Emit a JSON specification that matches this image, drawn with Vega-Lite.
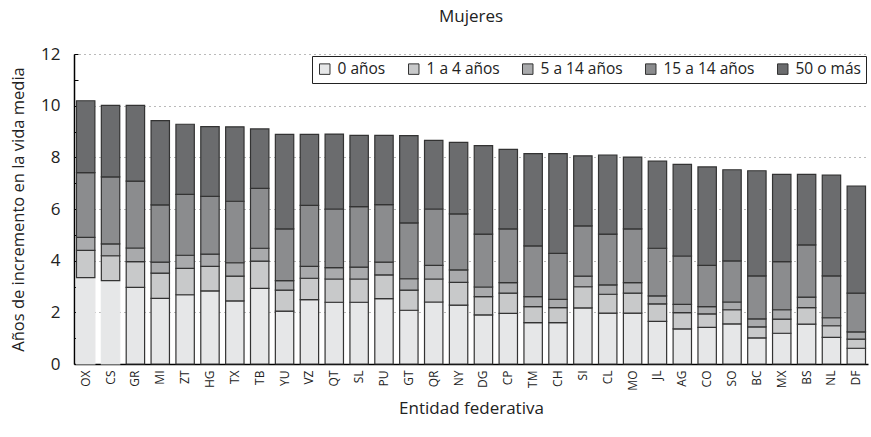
{
  "$schema": "https://vega.github.io/schema/vega-lite/v6.json",
  "width": 794,
  "height": 310,
  "autosize": {"type": "none"},
  "padding": {"left": 74, "top": 54, "right": 3, "bottom": 73},
  "background": "white",
  "config": {
    "font": "Open Sans",
    "view": {"stroke": null}
  },
  "title": {
    "text": "Mujeres",
    "fontSize": 17,
    "fontWeight": "normal",
    "color": "#222",
    "anchor": "middle",
    "offset": 19
  },
  "data": {
    "values": [
      {"estado": "OX", "g1": 3.34, "g2": 1.06, "g3": 0.50, "g4": 2.51, "g5": 2.78},
      {"estado": "CS", "g1": 3.23, "g2": 0.96, "g3": 0.46, "g4": 2.59, "g5": 2.77},
      {"estado": "GR", "g1": 2.97, "g2": 0.99, "g3": 0.53, "g4": 2.59, "g5": 2.93},
      {"estado": "MI", "g1": 2.54, "g2": 0.98, "g3": 0.42, "g4": 2.22, "g5": 3.26},
      {"estado": "ZT", "g1": 2.68, "g2": 1.02, "g3": 0.51, "g4": 2.36, "g5": 2.71},
      {"estado": "HG", "g1": 2.83, "g2": 0.95, "g3": 0.47, "g4": 2.24, "g5": 2.70},
      {"estado": "TX", "g1": 2.44, "g2": 0.96, "g3": 0.52, "g4": 2.38, "g5": 2.88},
      {"estado": "TB", "g1": 2.93, "g2": 1.05, "g3": 0.50, "g4": 2.32, "g5": 2.30},
      {"estado": "YU", "g1": 2.05, "g2": 0.81, "g3": 0.37, "g4": 2.00, "g5": 3.66},
      {"estado": "VZ", "g1": 2.49, "g2": 0.83, "g3": 0.46, "g4": 2.36, "g5": 2.75},
      {"estado": "QT", "g1": 2.39, "g2": 0.90, "g3": 0.44, "g4": 2.27, "g5": 2.90},
      {"estado": "SL", "g1": 2.39, "g2": 0.90, "g3": 0.46, "g4": 2.34, "g5": 2.76},
      {"estado": "PU", "g1": 2.53, "g2": 0.92, "g3": 0.49, "g4": 2.23, "g5": 2.68},
      {"estado": "GT", "g1": 2.08, "g2": 0.78, "g3": 0.44, "g4": 2.16, "g5": 3.38},
      {"estado": "QR", "g1": 2.40, "g2": 0.89, "g3": 0.53, "g4": 2.18, "g5": 2.66},
      {"estado": "NY", "g1": 2.28, "g2": 0.88, "g3": 0.48, "g4": 2.17, "g5": 2.77},
      {"estado": "DG", "g1": 1.90, "g2": 0.71, "g3": 0.37, "g4": 2.05, "g5": 3.42},
      {"estado": "CP", "g1": 1.96, "g2": 0.78, "g3": 0.41, "g4": 2.08, "g5": 3.08},
      {"estado": "TM", "g1": 1.60, "g2": 0.62, "g3": 0.39, "g4": 1.96, "g5": 3.57},
      {"estado": "CH", "g1": 1.60, "g2": 0.58, "g3": 0.32, "g4": 1.78, "g5": 3.86},
      {"estado": "SI", "g1": 2.17, "g2": 0.82, "g3": 0.41, "g4": 1.95, "g5": 2.71},
      {"estado": "CL", "g1": 1.97, "g2": 0.73, "g3": 0.36, "g4": 1.97, "g5": 3.06},
      {"estado": "MO", "g1": 1.97, "g2": 0.77, "g3": 0.41, "g4": 2.08, "g5": 2.78},
      {"estado": "JL", "g1": 1.65, "g2": 0.68, "g3": 0.31, "g4": 1.84, "g5": 3.37},
      {"estado": "AG", "g1": 1.36, "g2": 0.63, "g3": 0.32, "g4": 1.87, "g5": 3.55},
      {"estado": "CO", "g1": 1.42, "g2": 0.52, "g3": 0.28, "g4": 1.60, "g5": 3.81},
      {"estado": "SO", "g1": 1.55, "g2": 0.55, "g3": 0.30, "g4": 1.59, "g5": 3.53},
      {"estado": "BC", "g1": 1.01, "g2": 0.43, "g3": 0.31, "g4": 1.66, "g5": 4.07},
      {"estado": "MX", "g1": 1.19, "g2": 0.55, "g3": 0.36, "g4": 1.86, "g5": 3.38},
      {"estado": "BS", "g1": 1.54, "g2": 0.64, "g3": 0.41, "g4": 2.02, "g5": 2.73},
      {"estado": "NL", "g1": 1.03, "g2": 0.45, "g3": 0.31, "g4": 1.62, "g5": 3.90},
      {"estado": "DF", "g1": 0.61, "g2": 0.35, "g3": 0.28, "g4": 1.50, "g5": 4.15}
    ]
  },
  "transform": [
    {"fold": ["g1", "g2", "g3", "g4", "g5"], "as": ["grupo", "valor"]}
  ],
  "mark": {"type": "bar", "strokeWidth": 1.2},
  "encoding": {
    "x": {
      "field": "estado",
      "type": "nominal",
      "sort": null,
      "scale": {"paddingInner": 0.26, "paddingOuter": 0.1},
      "axis": {
        "title": "Entidad federativa",
        "titleFontSize": 17,
        "titleFontWeight": "normal",
        "titleColor": "#222",
        "titlePadding": 10,
        "labelAngle": -90,
        "labelFontSize": 12,
        "labelColor": "#222",
        "labelPadding": 6,
        "ticks": false,
        "domainColor": "#000",
        "domainWidth": 1.5
      }
    },
    "y": {
      "field": "valor",
      "type": "quantitative",
      "stack": "zero",
      "scale": {"domain": [0, 12], "nice": false},
      "axis": {
        "title": "Años de incremento en la vida media",
        "titleFontSize": 16.5,
        "titleFontWeight": "normal",
        "titleColor": "#222",
        "titlePadding": 14,
        "values": [0, 0.5, 1, 1.5, 2, 2.5, 3, 3.5, 4, 4.5, 5, 5.5, 6, 6.5, 7, 7.5, 8, 8.5, 9, 9.5, 10, 10.5, 11, 11.5, 12],
        "format": "d",
        "labelExpr": "datum.value % 2 === 0 ? datum.label : ''",
        "labelFontSize": 17,
        "labelColor": "#222",
        "labelPadding": 18,
        "tickSize": -4,
        "tickColor": "#000",
        "domainColor": "#000",
        "domainWidth": 1.5,
        "grid": true,
        "gridColor": "#777",
        "gridDash": [1, 4],
        "gridWidth": 1.2,
        "gridOpacity": {"condition": {"test": "datum.value % 2 === 0 && datum.value > 0", "value": 1}, "value": 0}
      }
    },
    "color": {
      "field": "grupo",
      "type": "nominal",
      "scale": {
        "domain": ["g1", "g2", "g3", "g4", "g5"],
        "range": ["#e6e7e8", "#c8c9ca", "#a9aaac", "#8b8c8e", "#6b6c6e"]
      },
      "legend": {
        "title": null,
        "orient": "top-right",
        "direction": "horizontal",
        "offset": 2,
        "labelExpr": "{'g1': '0 años', 'g2': '1 a 4 años', 'g3': '5 a 14 años', 'g4': '15 a 14 años', 'g5': '50 o más'}[datum.value]",
        "labelFontSize": 15.5,
        "labelColor": "#222",
        "symbolType": "square",
        "symbolSize": 110,
        "symbolStrokeColor": "#333",
        "symbolStrokeWidth": 1,
        "columnPadding": 20,
        "labelOffset": 5,
        "strokeColor": "#222",
        "fillColor": "white",
        "padding": 5
      }
    },
    "stroke": {
      "condition": {
        "test": "(datum.estado === 'OX' || datum.estado === 'CS') && datum.grupo === 'g1'",
        "value": "#e6e7e8"
      },
      "value": "#333333"
    },
    "order": {"field": "grupo", "sort": "ascending"}
  }
}
